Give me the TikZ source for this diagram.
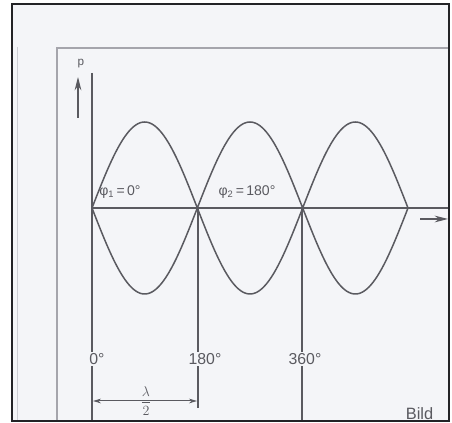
\documentclass[tikz,border=0pt]{standalone}
\usepackage{fontspec}
\setmainfont{Liberation Sans}
\usetikzlibrary{arrows.meta}
\definecolor{paper}{RGB}{244,245,248}
\definecolor{ink}{RGB}{90,90,96}
\definecolor{frameink}{RGB}{35,35,38}
\definecolor{boxink}{RGB}{165,165,172}
\definecolor{faint}{RGB}{205,206,212}
\begin{document}
\begin{tikzpicture}[x=0.3mm,y=-0.3mm,
  wave/.style={ink,line width=0.45mm},
  axis/.style={ink,line width=0.35mm},
  lbl/.style={text=ink,font=\fontsize{12}{14}\selectfont,inner sep=1pt},
  deg/.style={lbl,font=\fontsize{13.5}{15}\selectfont,fill=paper},
  arr/.style={-{Stealth[length=4mm,width=2mm]},ink,line width=0.35mm},
  dim/.style={{Stealth[length=2.4mm,width=1.4mm]}-{Stealth[length=2.4mm,width=1.4mm]},ink,line width=0.3mm}
]
\useasboundingbox (0,0) rectangle (452,423);
\fill[white] (0,0) rectangle (452,423);
\fill[paper] (12,4) rectangle (449,421);
% page edges
\draw[faint,line width=0.3mm] (17,47) -- (17,421);
\draw[boxink,line width=0.4mm] (57,421) -- (57,48) -- (449,48);
% axes
\coordinate (o) at (92,208);
\coordinate (ytop) at (92,73);
\coordinate (ybot) at (92,421);
\coordinate (xend) at (449,208);
\coordinate (c1) at (198,208);
\coordinate (c2) at (302,208);
\coordinate (c1bot) at (198,408);
\coordinate (c2bot) at (302,421);
\draw[axis] (ytop) -- (ybot);
\draw[axis] (o) -- (xend);
\draw[axis] (c1) -- (c1bot);
\draw[axis] (c2) -- (c2bot);
% direction arrows
\coordinate (pfoot) at (78,118);
\coordinate (ptip) at (78,77);
\node[lbl,font=\fontsize{10}{12}\selectfont] (p) at (81,64) {p};
\draw[arr] (pfoot) -- (ptip);
\coordinate (xfoot) at (420,219);
\coordinate (xtip) at (448,219);
\draw[arr] (xfoot) -- (xtip);
% the two waves
\draw[wave] plot[domain=0:540,samples=181] ({92+\x*0.5852},{208-86*abs(sin(\x))});
\draw[wave] plot[domain=0:540,samples=181] ({92+\x*0.5852},{208+86*abs(sin(\x))});
% labels
\node[lbl] (phi1) at (120,192) {φ\textsubscript{1}\,=\,0°};
\node[lbl] (phi2) at (247,192) {φ\textsubscript{2}\,=\,180°};
\node[deg] (deg0) at (97,359) {0°};
\node[deg] (deg180) at (205,359) {180°};
\node[deg] (deg360) at (305,359) {360°};
% half wavelength
\coordinate (d0) at (93,401);
\coordinate (d1) at (197,401);
\draw[dim] (d0) -- (d1);
\node[text=ink,inner sep=0pt,font=\large] (half) at (146,401) {$\displaystyle\frac{\lambda}{2}$};
% caption
\node[lbl,font=\fontsize{14}{16}\selectfont,anchor=south west,inner sep=0.5pt] (bild) at (405,420) {Bild};
\draw[frameink,line width=0.6mm] (12,4) rectangle (449,421);
\end{tikzpicture}
\end{document}
